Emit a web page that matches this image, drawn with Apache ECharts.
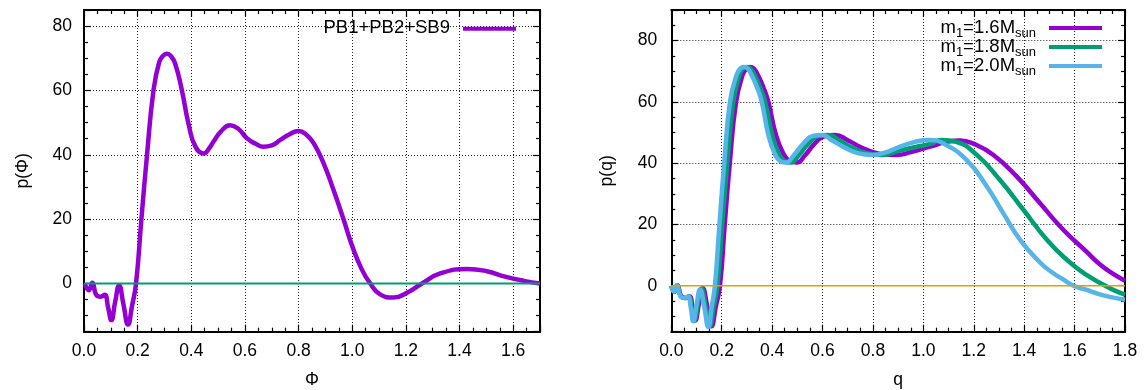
<!DOCTYPE html>
<html>
<head>
<meta charset="utf-8">
<script src="https://cdn.jsdelivr.net/npm/echarts@6/dist/echarts.min.js"></script>
<style>html,body{margin:0;padding:0;background:#fff}#c{width:1145px;height:390px}</style>
</head>
<body>
<div id="c"></div>
<script>
// ---- data ----
const phiX = [0.003, 0.018, 0.031, 0.046, 0.062, 0.077, 0.090, 0.102, 0.116, 0.131, 0.147, 0.164, 0.179, 0.194, 0.214, 0.235, 0.259, 0.280, 0.295, 0.309, 0.323, 0.340, 0.365, 0.390, 0.415, 0.446, 0.465, 0.483, 0.510, 0.545, 0.575, 0.608, 0.640, 0.669, 0.700, 0.732, 0.765, 0.800, 0.828, 0.856, 0.893, 0.930, 0.968, 1.000, 1.036, 1.067, 1.104, 1.154, 1.204, 1.260, 1.328, 1.428, 1.502, 1.570, 1.640, 1.700];
const phiY = [0.0, -2.1, 0.2, -3.6, -4.1, -3.5, -7.5, -11.4, -5.8, -0.6, -6.5, -12.8, -7.0, 0.0, 20.0, 40.0, 60.0, 68.7, 70.8, 71.4, 70.8, 68.3, 60.0, 49.5, 42.6, 40.4, 41.8, 44.1, 47.2, 49.2, 48.1, 45.1, 43.4, 42.5, 42.9, 44.6, 46.3, 47.4, 46.3, 43.6, 37.4, 29.1, 19.8, 11.6, 4.3, 0.0, -3.4, -4.4, -2.9, 0.0, 3.1, 4.5, 3.8, 2.1, 0.8, 0.0];

const q16X = [0.000, 0.012, 0.024, 0.040, 0.057, 0.072, 0.085, 0.095, 0.110, 0.125, 0.142, 0.160, 0.176, 0.193, 0.212, 0.232, 0.257, 0.283, 0.298, 0.312, 0.327, 0.345, 0.365, 0.385, 0.415, 0.444, 0.470, 0.498, 0.530, 0.570, 0.610, 0.650, 0.700, 0.750, 0.800, 0.850, 0.894, 0.950, 1.027, 1.090, 1.146, 1.200, 1.278, 1.371, 1.463, 1.556, 1.646, 1.700, 1.750, 1.800];
const q16Y = [0.0, -2.0, 0.2, -3.5, -4.0, -3.5, -7.5, -11.4, -5.8, -0.8, -6.5, -13.2, -7.0, 0.0, 20.0, 40.0, 60.0, 68.8, 70.9, 71.4, 70.9, 68.5, 64.8, 60.0, 49.3, 43.2, 40.7, 40.2, 42.5, 46.5, 48.9, 49.2, 47.5, 45.3, 43.6, 42.8, 42.7, 43.6, 45.4, 46.9, 47.4, 46.3, 42.7, 35.6, 26.9, 18.2, 11.2, 7.0, 4.0, 1.6];

const q18X = [0.000, 0.012, 0.023, 0.038, 0.055, 0.069, 0.081, 0.091, 0.106, 0.120, 0.136, 0.153, 0.168, 0.183, 0.202, 0.222, 0.246, 0.271, 0.285, 0.299, 0.314, 0.332, 0.352, 0.372, 0.400, 0.426, 0.448, 0.474, 0.505, 0.545, 0.585, 0.623, 0.670, 0.720, 0.770, 0.835, 0.900, 0.970, 1.027, 1.073, 1.130, 1.212, 1.304, 1.397, 1.490, 1.569, 1.646, 1.722, 1.760, 1.800];
const q18Y = [0.0, -2.0, 0.2, -3.5, -4.0, -3.5, -7.5, -11.4, -5.8, -0.9, -6.5, -13.2, -7.0, 0.0, 20.0, 40.0, 60.0, 68.8, 70.9, 71.4, 70.9, 68.5, 64.8, 60.0, 49.3, 43.2, 40.7, 40.2, 42.5, 46.5, 48.9, 49.2, 47.3, 45.0, 43.4, 42.7, 44.0, 45.3, 46.3, 47.6, 47.0, 42.7, 34.5, 24.8, 15.0, 8.5, 3.6, 0.0, -1.6, -2.9];

const q20X = [0.000, 0.011, 0.022, 0.037, 0.053, 0.066, 0.078, 0.087, 0.101, 0.114, 0.130, 0.147, 0.160, 0.173, 0.191, 0.210, 0.233, 0.259, 0.274, 0.288, 0.303, 0.320, 0.340, 0.359, 0.385, 0.410, 0.432, 0.455, 0.485, 0.525, 0.562, 0.597, 0.640, 0.690, 0.740, 0.800, 0.860, 0.907, 0.960, 1.020, 1.080, 1.172, 1.252, 1.317, 1.384, 1.463, 1.510, 1.556, 1.596, 1.646, 1.700, 1.750, 1.800];
const q20Y = [0.0, -2.0, 0.2, -3.5, -4.0, -3.5, -7.5, -11.6, -5.8, -1.2, -6.5, -13.5, -7.0, 0.0, 20.0, 40.0, 60.0, 68.8, 70.9, 71.4, 70.9, 68.5, 64.8, 60.0, 49.3, 43.2, 40.7, 40.2, 42.5, 46.5, 48.9, 49.2, 47.3, 45.0, 43.3, 42.7, 43.8, 45.4, 46.8, 47.6, 46.4, 41.0, 32.4, 23.7, 15.0, 7.6, 4.4, 2.0, 0.0, -1.3, -2.8, -3.8, -4.6];

const zeroLeftX = [0, 1.7];
const zeroRightX = [0, 1.8];
const zeroY = [0, 0];

const namesLeft = ['PB1+PB2+SB9'];
const namesRight = ['m1=1.6Msun', 'm1=1.8Msun', 'm1=2.0Msun'];
const richNames = {
  'PB1+PB2+SB9': '{t|PB1+PB2+SB9}',
  'm1=1.6Msun': '{t|m}{s|1}{t|=1.6M}{s|sun}',
  'm1=1.8Msun': '{t|m}{s|1}{t|=1.8M}{s|sun}',
  'm1=2.0Msun': '{t|m}{s|1}{t|=2.0M}{s|sun}'
};
const xNames = ['Φ', 'q'];
const yNames = ['p(Φ)', 'p(q)'];

// ---- styling ----
const FONT = "'Liberation Sans', Arial, Helvetica, sans-serif";
const C = {purple: '#9400d3', green: '#009e73', blue: '#56b4e9', orange: '#e69f00'};
const zip = (xs, ys) => xs.map((x, i) => [x, ys[i]]);

function xAx(grid, max, primary, pos, name) {
  return {
    type: 'value', gridIndex: grid, position: pos, min: 0, max: max, interval: 0.2,
    name: primary ? name : '', nameLocation: 'middle', nameGap: 39,
    nameTextStyle: {fontSize: 17.5, color: '#000', fontFamily: FONT},
    axisLine: {show: true, onZero: false, lineStyle: {color: '#000', width: 2}},
    axisTick: {show: true, inside: true, length: 7, lineStyle: {color: '#000', width: 1.2}},
    minorTick: {show: true, splitNumber: 4, length: 4, lineStyle: {color: '#000', width: 1.2}},
    axisLabel: {show: primary, fontSize: 17.5, color: '#000', fontFamily: FONT, margin: 10,
      formatter: v => v.toFixed(1), showMaxLabel: max === 1.8, showMinLabel: true},
    splitLine: {show: primary, lineStyle: {color: '#222', width: 1, type: [1, 2]}}
  };
}
function yAx(grid, min, max, primary, pos, name, gap, lm) {
  return {
    type: 'value', gridIndex: grid, position: pos, min: min, max: max, splitNumber: 5,
    name: primary ? name : '', nameLocation: 'middle', nameGap: gap || 52, nameRotate: 90,
    nameTextStyle: {fontSize: 17.5, color: '#000', fontFamily: FONT},
    axisLine: {show: true, onZero: false, lineStyle: {color: '#000', width: 2}},
    axisTick: {show: true, inside: true, length: 7, lineStyle: {color: '#000', width: 1.2}},
    minorTick: {show: true, splitNumber: 4, length: 4, lineStyle: {color: '#000', width: 1.2}},
    axisLabel: {show: primary, fontSize: 17.5, color: '#000', fontFamily: FONT, margin: lm || 12,
      showMinLabel: false, showMaxLabel: false},
    splitLine: {show: primary, lineStyle: {color: '#222', width: 1, type: [1, 2]}}
  };
}
function curve(name, ai, data, color) {
  return {name: name, type: 'line', xAxisIndex: ai, yAxisIndex: ai, data: data,
    smooth: 0.5, symbol: 'none', showSymbol: false, clip: true,
    lineStyle: {width: 4.5, color: color}, itemStyle: {color: color}, z: 3};
}
function zeroLine(ai, xs, color, w) {
  return {name: 'zero' + ai, type: 'line', xAxisIndex: ai, yAxisIndex: ai, data: zip(xs, zeroY),
    symbol: 'none', showSymbol: false, silent: true,
    lineStyle: {width: w, color: color}, itemStyle: {color: color}, z: 4};
}
const legendText = {
  fontSize: 18.5, color: '#000', fontFamily: FONT, padding: [0, 8, 0, 0],
  rich: {
    t: {fontSize: 18.5, color: '#000', fontFamily: FONT, lineHeight: 20, verticalAlign: 'top'},
    s: {fontSize: 13, color: '#000', fontFamily: FONT, lineHeight: 13, padding: [11, 0, 0, 0]}
  }
};

const option = {
  animation: false,
  backgroundColor: '#fff',
  grid: [
    {left: 84, top: 10, width: 456, height: 321.7, containLabel: false, outerBoundsMode: 'none'},
    {left: 671.3, top: 10, width: 453.7, height: 321.7, containLabel: false, outerBoundsMode: 'none'}
  ],
  xAxis: [
    xAx(0, 1.7, true, 'bottom', xNames[0]), xAx(0, 1.7, false, 'top'),
    xAx(1, 1.8, true, 'bottom', xNames[1]), xAx(1, 1.8, false, 'top')
  ],
  yAxis: [
    yAx(0, -15, 85, true, 'left', yNames[0], 52, 12), yAx(0, -15, 85, false, 'right'),
    yAx(1, -15, 90, true, 'left', yNames[1], 55, 14), yAx(1, -15, 90, false, 'right')
  ],
  legend: [
    {data: namesLeft, orient: 'vertical', align: 'right', right: 629, top: 18.7, padding: 0,
      icon: 'rect', itemWidth: 53, itemHeight: 4, selectedMode: false,
      formatter: n => richNames[n], textStyle: legendText},
    {data: namesRight, orient: 'vertical', align: 'right', right: 43, top: 16, padding: 0, itemGap: -5,
      icon: 'rect', itemWidth: 53, itemHeight: 4, selectedMode: false,
      formatter: n => richNames[n], textStyle: legendText}
  ],
  series: [
    curve(namesLeft[0], 0, zip(phiX, phiY), C.purple),
    zeroLine(0, zeroLeftX, C.green, 2),
    curve(namesRight[0], 2, zip(q16X, q16Y), C.purple),
    curve(namesRight[1], 2, zip(q18X, q18Y), C.green),
    curve(namesRight[2], 2, zip(q20X, q20Y), C.blue),
    zeroLine(2, zeroRightX, C.orange, 1.5)
  ]
};
const chart = echarts.init(document.getElementById('c'), null, {renderer: 'canvas'});
chart.setOption(option);
</script>
</body>
</html>
